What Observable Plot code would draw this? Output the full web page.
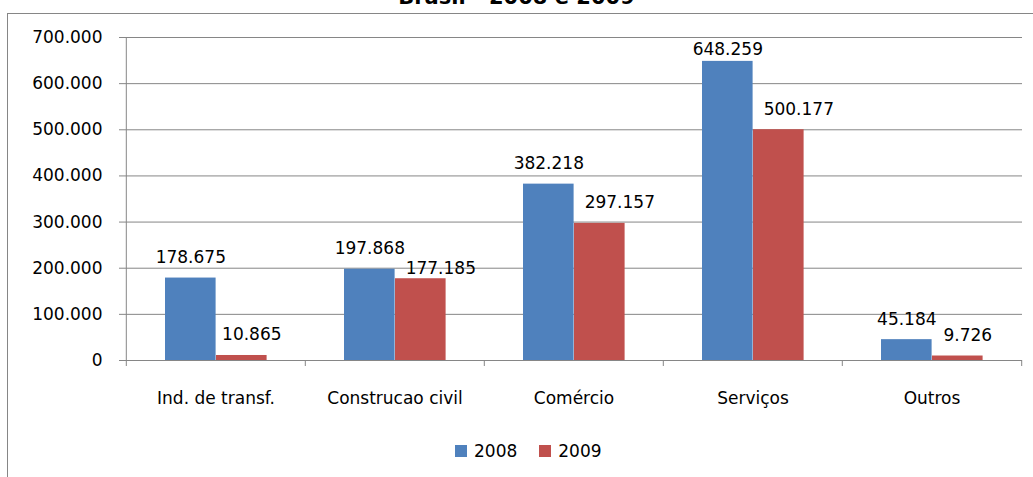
<!DOCTYPE html>
<html>
<head>
<meta charset="utf-8">
<script src="https://cdn.jsdelivr.net/npm/d3@7"></script>
<script src="https://cdn.jsdelivr.net/npm/@observablehq/plot@0.6"></script>
<style>
  body { margin: 0; background: #fff; }
  #wrap { position: relative; width: 1033px; height: 477px; overflow: hidden; background: #fff; font-family: "DejaVu Sans", sans-serif; }
  #title { position: absolute; left: 0; width: 1033px; top: -15px; line-height: 25px; text-align: center; font: bold 21px "DejaVu Sans", sans-serif; color: #000; }
  #frame { position: absolute; left: 7px; top: 13px; width: 1100px; height: 500px; border: 1px solid #868686; box-sizing: border-box; }
  #chart { position: absolute; left: 0; top: 0; }
  #legend { position: absolute; left: 455px; top: 441px; display: flex; align-items: center; font: 17px "DejaVu Sans", sans-serif; line-height: 20px; color: #000; }
  .sw { width: 12px; height: 12px; display: inline-block; }
</style>
</head>
<body>
<div id="wrap">
  <div id="frame"></div>
  <div id="title">Brasil - 2008 e 2009</div>
  <div id="chart"></div>
  <div id="legend"></div>
</div>
<script>
const categories = ["Ind. de transf.", "Construcao civil", "Comércio", "Serviços", "Outros"];
const series = ["2008", "2009"];
const values2008 = [178675, 197868, 382218, 648259, 45184];
const values2009 = [10865, 177185, 297157, 500177, 9726];
const yTicks = [0, 100000, 200000, 300000, 400000, 500000, 600000, 700000];
const colors = ["#4F81BD", "#C0504D"];

const fmt = d => d3.format(",")(d).replace(/,/g, ".");

const data = [];
categories.forEach((c, i) => {
  data.push({cat: c, year: "2008", value: values2008[i], other: values2009[i]});
  data.push({cat: c, year: "2009", value: values2009[i], other: values2008[i]});
});
const d08 = data.filter(d => d.year === "2008");
const d09 = data.filter(d => d.year === "2009");
const yMax = yTicks[yTicks.length - 1];
// label placement groups (as in the original: labels pushed to avoid collisions)
const d08low = d08.filter(d => d.value < 0.9 * yMax);
const d08high = d08.filter(d => d.value >= 0.9 * yMax);
const d09tiny = d09.filter(d => d.value < 0.05 * yMax);
const d09near = d09.filter(d => d.value >= 0.05 * yMax && d.other - d.value < 0.1 * yMax);
const d09rest = d09.filter(d => d.value >= 0.05 * yMax && d.other - d.value >= 0.1 * yMax);

const width = 1033, marginLeft = 125, marginRight = 11;
const bw = (width - marginLeft - marginRight) / categories.length;
const barW = 51, outer = 39;
const grid = "#868686";
const c08 = outer + barW / 2 - bw / 2;
const c09 = outer + 1.5 * barW - bw / 2;

const chart = Plot.plot({
  width,
  height: 420,
  marginLeft,
  marginRight,
  marginTop: 37,
  marginBottom: 60,
  style: {fontFamily: "DejaVu Sans, sans-serif", fontSize: "17px", color: "#000", background: "transparent"},
  x: {domain: categories, padding: 0, label: null},
  y: {domain: [0, yMax], label: null},
  color: {domain: series, range: colors},
  marks: [
    Plot.gridY(yTicks, {stroke: grid, strokeOpacity: 1, strokeWidth: 1}),
    Plot.axisY(yTicks, {tickSize: 6, tickPadding: 17, tickFormat: fmt, stroke: grid, label: null, fill: "#000"}),
    Plot.ruleX([categories[0]], {dx: -bw / 2, y1: 0, y2: yMax, stroke: grid}),
    Plot.barY(d08, {x: "cat", y: "value", fill: colors[0], insetLeft: outer, insetRight: bw - outer - barW}),
    Plot.barY(d09, {x: "cat", y: "value", fill: colors[1], insetLeft: outer + barW, insetRight: bw - outer - 2 * barW}),
    Plot.ruleY([0], {stroke: grid}),
    Plot.axisX(categories, {tickSize: 6, text: null, dx: -bw / 2, stroke: grid, label: null}),
    Plot.axisX([categories[categories.length - 1]], {tickSize: 6, text: null, dx: bw / 2, stroke: grid, label: null}),
    Plot.axisX(categories, {tickSize: 0, tickPadding: 31, label: null, fill: "#000"}),
    Plot.text(d08low, {x: "cat", y: "value", text: d => fmt(d.value), dx: c08, dy: -15, lineAnchor: "bottom", fill: "#000"}),
    Plot.text(d08high, {x: "cat", y: "value", text: d => fmt(d.value), dx: c08, dy: -6, lineAnchor: "bottom", fill: "#000"}),
    Plot.text(d09tiny, {x: "cat", y: "value", text: d => fmt(d.value), dx: c09 + 10, dy: -15, lineAnchor: "bottom", fill: "#000"}),
    Plot.text(d09near, {x: "cat", y: "value", text: d => fmt(d.value), dx: c09 + 20, dy: -5, lineAnchor: "bottom", fill: "#000"}),
    Plot.text(d09rest, {x: "cat", y: "value", text: d => fmt(d.value), dx: c09 + 20, dy: -15, lineAnchor: "bottom", fill: "#000"})
  ]
});
document.getElementById("chart").appendChild(chart);

const legend = document.getElementById("legend");
series.forEach((s, i) => {
  const sw = document.createElement("span");
  sw.className = "sw";
  sw.style.background = colors[i];
  sw.style.marginRight = "7px";
  legend.appendChild(sw);
  const t = document.createElement("span");
  t.textContent = s;
  t.style.marginRight = i === 0 ? "22px" : "0";
  legend.appendChild(t);
});
</script>
</body>
</html>
